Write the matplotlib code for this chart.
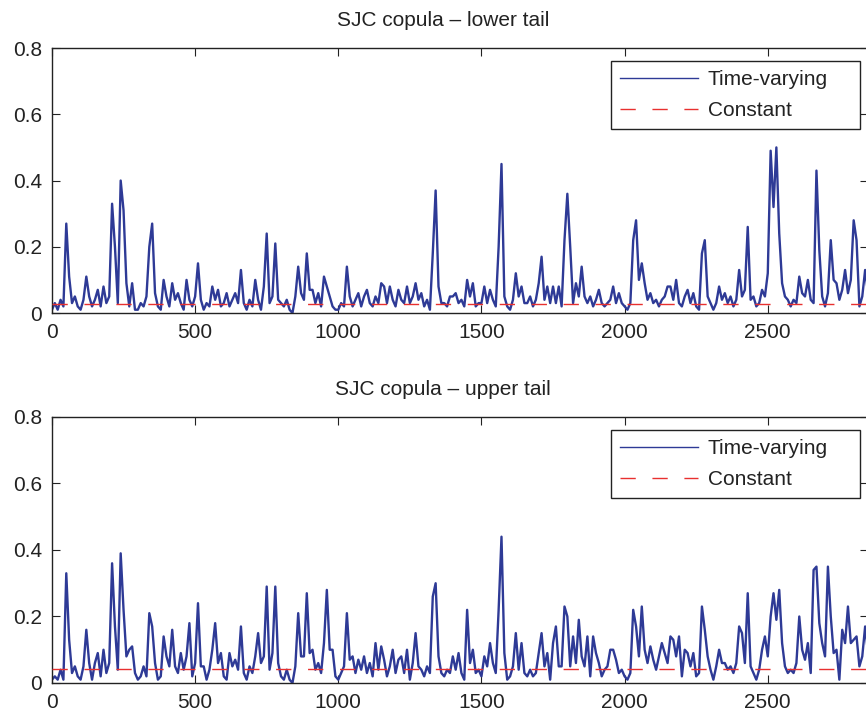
import matplotlib
matplotlib.use('Agg')
import matplotlib.pyplot as plt
import numpy as np

plt.rcParams['font.family'] = ['Liberation Sans', 'DejaVu Sans']

STEP = 10  # observation spacing

# tail dependence, in hundredths
LOWER_TAIL = [
  1, 3, 1, 4, 2, 27, 11, 3, 5, 2,
  1, 4, 11, 5, 2, 4, 7, 2, 8, 3,
  5, 33, 20, 3, 40, 31, 9, 2, 9, 1,
  1, 3, 2, 5, 20, 27, 6, 2, 1, 10,
  5, 2, 9, 4, 6, 3, 1, 10, 4, 2,
  5, 15, 4, 1, 3, 2, 8, 4, 7, 2,
  3, 6, 2, 4, 6, 3, 13, 3, 1, 4,
  2, 10, 4, 1, 8, 24, 3, 5, 21, 4,
  3, 2, 4, 1, 0, 5, 14, 6, 4, 18,
  7, 7, 3, 6, 2, 11, 8, 5, 2, 1,
  1, 3, 2, 14, 5, 2, 4, 6, 2, 5,
  7, 3, 2, 5, 3, 9, 8, 3, 8, 4,
  2, 7, 4, 3, 8, 3, 5, 9, 4, 6,
  2, 4, 1, 18, 37, 8, 3, 3, 2, 5,
  5, 6, 3, 4, 2, 10, 5, 9, 2, 3,
  3, 8, 3, 7, 4, 2, 20, 45, 5, 2,
  1, 4, 12, 5, 8, 3, 3, 5, 2, 4,
  9, 17, 4, 8, 3, 8, 3, 8, 2, 22,
  36, 20, 3, 9, 5, 14, 5, 3, 5, 2,
  4, 7, 3, 2, 3, 4, 8, 3, 6, 3,
  2, 1, 3, 22, 28, 10, 15, 9, 4, 6,
  3, 4, 2, 4, 5, 8, 8, 4, 10, 3,
  2, 5, 7, 3, 6, 2, 1, 18, 22, 5,
  3, 1, 3, 8, 4, 6, 3, 5, 2, 4,
  13, 5, 7, 26, 4, 5, 2, 3, 7, 5,
  12, 49, 32, 50, 24, 9, 5, 4, 2, 4,
  3, 11, 6, 5, 10, 4, 3, 43, 19, 5,
  2, 6, 22, 10, 9, 4, 7, 13, 6, 10,
  28, 22, 2, 5, 13, 6,
]

UPPER_TAIL = [
  1, 2, 1, 4, 1, 33, 13, 3, 5, 2,
  1, 5, 16, 6, 1, 6, 9, 2, 10, 3,
  6, 36, 17, 4, 39, 22, 8, 10, 11, 3,
  1, 2, 5, 2, 21, 17, 6, 1, 2, 14,
  8, 5, 16, 5, 3, 9, 4, 8, 18, 2,
  6, 24, 5, 5, 1, 4, 10, 18, 6, 9,
  2, 1, 9, 5, 7, 4, 17, 3, 1, 5,
  3, 8, 15, 6, 8, 29, 4, 9, 29, 6,
  2, 1, 4, 1, 0, 5, 21, 8, 8, 27,
  9, 10, 4, 6, 3, 12, 28, 10, 10, 2,
  1, 3, 5, 21, 7, 8, 3, 7, 4, 8,
  3, 6, 2, 12, 4, 11, 7, 2, 5, 10,
  3, 7, 8, 3, 10, 1, 6, 15, 5, 4,
  2, 5, 3, 26, 30, 8, 3, 2, 4, 3,
  8, 4, 9, 3, 1, 22, 6, 10, 3, 4,
  2, 8, 5, 12, 6, 3, 22, 44, 9, 1,
  2, 5, 15, 4, 12, 3, 2, 4, 2, 3,
  9, 15, 5, 9, 1, 12, 17, 5, 5, 23,
  20, 5, 14, 6, 19, 8, 5, 14, 2, 14,
  9, 6, 2, 4, 5, 10, 10, 7, 3, 4,
  2, 1, 3, 22, 17, 8, 23, 10, 6, 11,
  7, 4, 8, 12, 9, 6, 14, 13, 8, 14,
  2, 10, 9, 5, 9, 2, 3, 23, 16, 8,
  4, 1, 5, 10, 6, 6, 4, 5, 3, 6,
  17, 15, 6, 27, 5, 3, 1, 4, 10, 14,
  8, 20, 27, 19, 28, 12, 5, 3, 4, 3,
  6, 20, 10, 7, 12, 3, 34, 35, 18, 12,
  8, 35, 20, 9, 10, 1, 16, 12, 23, 12,
  13, 14, 5, 8, 17, 9,
]

CONST_LOWER = 0.028
CONST_UPPER = 0.043

titles = ['SJC copula \u2013 lower tail', 'SJC copula \u2013 upper tail']
xticks = [0, 500, 1000, 1500, 2000, 2500]
yticks = [0, 0.2, 0.4, 0.6, 0.8]
ytick_labels = ['0', '0.2', '0.4', '0.6', '0.8']

blue = '#2E3A96'
red = '#E8302F'
ink = '#222222'

fig = plt.figure(figsize=(8.66, 7.16), dpi=100)
fig.patch.set_facecolor('white')

# right edge of the axes sits just past the figure border
rects = [
    [0.0600, 0.5628, 0.9423, 0.3701],
    [0.0600, 0.0461, 0.9423, 0.3715],
]

series = [(LOWER_TAIL, CONST_LOWER), (UPPER_TAIL, CONST_UPPER)]

for rect, (vals, const), title in zip(rects, series, titles):
    ax = fig.add_axes(rect)
    y = np.array(vals) / 100.0
    x = np.arange(len(y)) * STEP

    ax.plot(x, y, color=blue, lw=1.7, label='Time-varying', zorder=2)
    ax.plot(x, np.full(len(x), const), color=red, lw=1.0,
            dashes=(11, 12), label='Constant', zorder=3)

    ax.set_xlim(0, 2850)
    ax.set_ylim(0, 0.8)
    ax.set_xticks(xticks)
    ax.set_xticklabels([str(t) for t in xticks])
    ax.set_yticks(yticks)
    ax.set_yticklabels(ytick_labels)

    ax.tick_params(direction='in', length=5.5, width=0.8, top=True, right=True,
                   labelsize=15, colors=ink, pad=7)
    for s in ax.spines.values():
        s.set_linewidth(1.0)
        s.set_color(ink)

    ax.set_title(title, fontsize=15, color=ink, pad=16, x=0.479)

    # box stretched to a fixed width, entries stay left aligned
    leg = ax.legend(loc='upper right', bbox_to_anchor=(0.685, 0.0, 0.305, 0.951),
                    mode='expand', fontsize=15, frameon=True, fancybox=False,
                    framealpha=1, edgecolor=ink, handlelength=3.75,
                    handletextpad=0.45, labelspacing=0.55, borderpad=0.45,
                    borderaxespad=0)
    leg.get_frame().set_linewidth(1.0)
    for line in leg.get_lines():
        line.set_linewidth(1.0)
    for t in leg.get_texts():
        t.set_color(ink)

fig.savefig('out.png', dpi=100)
